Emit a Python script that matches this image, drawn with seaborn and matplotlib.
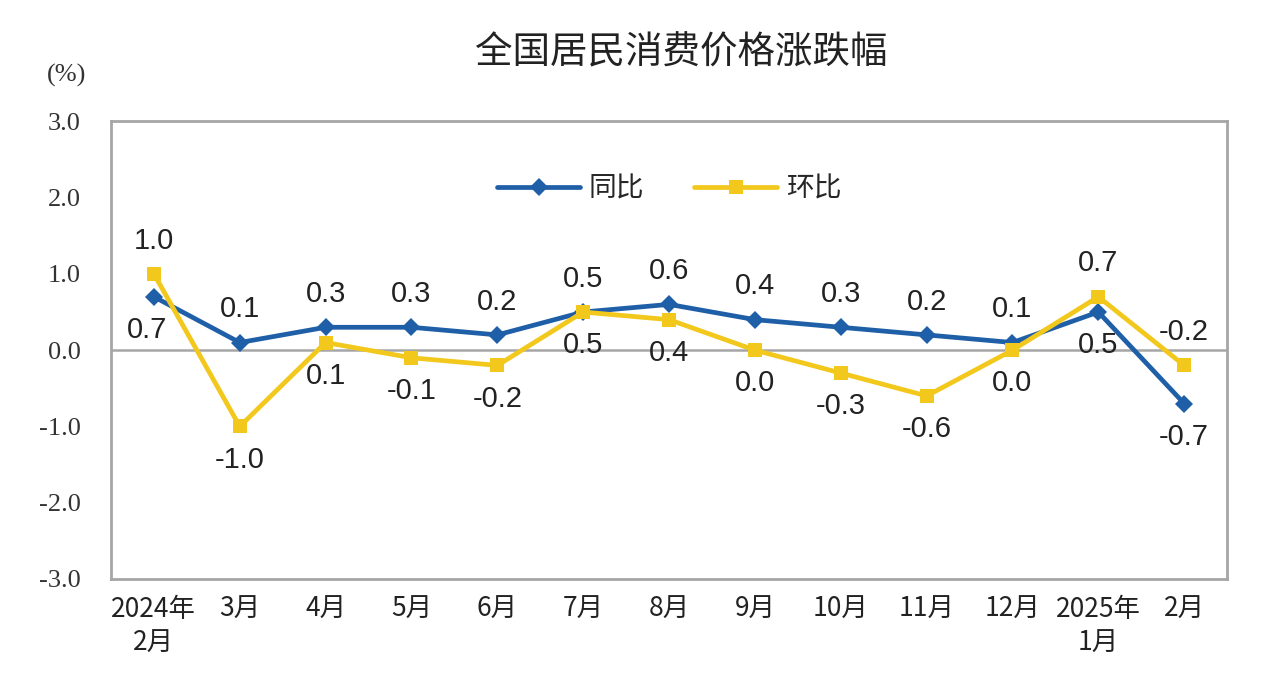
import matplotlib
matplotlib.use("Agg")
import matplotlib.pyplot as plt
import pandas as pd
import seaborn as sns

months = ["2024年\n2月", "3月", "4月", "5月", "6月", "7月", "8月", "9月",
          "10月", "11月", "12月", "2025年\n1月", "2月"]
yoy = [0.7, 0.1, 0.3, 0.3, 0.2, 0.5, 0.6, 0.4, 0.3, 0.2, 0.1, 0.5, -0.7]
mom = [1.0, -1.0, 0.1, -0.1, -0.2, 0.5, 0.4, 0.0, -0.3, -0.6, 0.0, 0.7, -0.2]
# label side: +1 above, -1 below
yoy_side = [-1, 1, 1, 1, 1, 1, 1, 1, 1, 1, 1, -1, -1]
mom_side = [1, -1, -1, -1, -1, -1, -1, -1, -1, -1, -1, 1, 1]

BLUE = "#1f5fa8"
YELLOW = "#f2c81c"
GRAY = "#a6a6a6"

sns.set_style("white")
plt.rcParams["font.family"] = ["Noto Sans CJK SC", "DejaVu Sans"]

df = pd.DataFrame({"idx": range(len(months)), "同比": yoy, "环比": mom})
long = df.melt(id_vars="idx", var_name="series", value_name="val")

fig = plt.figure(figsize=(12.8, 6.73), dpi=100)
ax = fig.add_axes([0.0867, 0.1397, 0.872, 0.680])

sns.lineplot(data=long, x="idx", y="val", hue="series", style="series",
             markers={"同比": "D", "环比": "s"}, dashes=False,
             palette={"同比": BLUE, "环比": YELLOW},
             linewidth=3.4, markersize=9.5, markeredgewidth=0, ax=ax)

ax.axhline(0, color=GRAY, lw=1.8, zorder=0)

ax.set_xlim(-0.5, len(months) - 0.5)
ax.set_ylim(-3, 3)
ax.set_yticks([-3, -2, -1, 0, 1, 2, 3])
ax.set_yticklabels([f"{v:.1f}" for v in [-3, -2, -1, 0, 1, 2, 3]],
                   family="Liberation Serif", fontsize=19, color="#333333")
ax.set_xticks(range(len(months)))
ax.set_xticklabels(months, fontsize=19, color="#222222", linespacing=1.35,
                   va="top")
ax.tick_params(axis="x", length=0, pad=12)
ax.tick_params(axis="y", direction="in", length=5, color=GRAY, pad=22)
ax.set_xlabel("")
ax.set_ylabel("")
for s in ax.spines.values():
    s.set_color(GRAY)
    s.set_linewidth(2)

for i, (v, sd) in enumerate(zip(yoy, yoy_side)):
    ax.annotate(f"{v:.1f}", (i, v), xytext=(-5 if i == 0 else 0, 24 * sd),
                textcoords="offset points", ha="center", va="center",
                family="Liberation Sans", fontsize=21, color="#222222")
for i, (v, sd) in enumerate(zip(mom, mom_side)):
    ax.annotate(f"{v:.1f}", (i, v), xytext=(0, 24 * sd),
                textcoords="offset points", ha="center", va="center",
                family="Liberation Sans", fontsize=21, color="#222222")

ax.legend(loc="center", bbox_to_anchor=(0.5, 0.853), ncol=2, frameon=False,
          fontsize=20, handlelength=3.0, handletextpad=0.3,
          columnspacing=1.8, title=None)

fig.text(0.532, 0.922, "全国居民消费价格涨跌幅", ha="center", va="center",
         fontsize=27, color="#222222")
fig.text(0.052, 0.888, "(%)", ha="center", va="center",
         family="Liberation Serif", fontsize=19, color="#333333")

fig.savefig("out.png", dpi=100)
